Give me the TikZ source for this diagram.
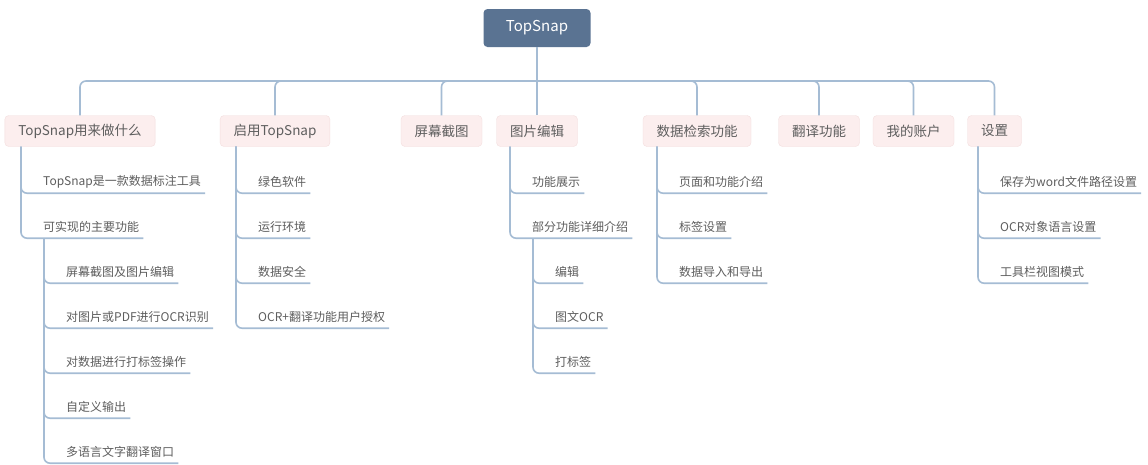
\documentclass[tikz,border=0pt]{standalone}
\usepackage{fontspec}
\setmainfont{Noto Sans CJK SC}
\usetikzlibrary{calc,positioning}

\definecolor{rootblue}{HTML}{5A7392}
\definecolor{topicfill}{HTML}{FCEEEE}
\definecolor{topicline}{HTML}{F4DEDE}
\definecolor{linkblue}{HTML}{A5BCD4}
\definecolor{textgray}{HTML}{5E5E5E}

\tikzset{
  root/.style={fill=rootblue, rounded corners=4pt, text=white,
    minimum width=107, minimum height=38, font=\fontsize{15}{18}\selectfont},
  topic/.style={fill=topicfill, draw=topicline, rounded corners=4pt, text=textgray,
    minimum height=31, inner xsep=13.5, font=\fontsize{13.5}{16}\selectfont},
  sub/.style={text=textgray, inner xsep=4, inner ysep=0, minimum height=22,
    anchor=west, font=\fontsize{12}{14}\selectfont},
  link/.style={linkblue, line width=1.6pt, rounded corners=6pt},
}

\begin{document}
\begin{tikzpicture}[x=1pt,y=-1pt]
\fill[white] (0,0) rectangle (1148,464);
\useasboundingbox (0,0) rectangle (1148,464);

% === Root and main topics ===
\node[root] (root) at (537,28) {TopSnap};
\coordinate (hub) at (537,81);
\draw[link] (root.south) -- (hub);

\foreach \x/\txt/\name in {80/TopSnap用来做什么/t1, 275/启用TopSnap/t2,
    441.5/屏幕截图/t3, 537/图片编辑/t4, 697/数据检索功能/t5,
    819/翻译功能/t6, 913.5/我的账户/t7, 994.5/设置/t8} {
  \node[topic] (\name) at (\x,131) {\txt};
  \draw[link] (hub) -| (\name.north);
}

% vertical x positions of the sub-topic lines
\coordinate (v1) at (21,0);
\coordinate (v1b) at (44,0);
\coordinate (v2) at (236,0);
\coordinate (v4) at (510,0);
\coordinate (v4b) at (533,0);
\coordinate (v5) at (657,0);
\coordinate (v8) at (978,0);

% === TopSnap用来做什么 ===
\foreach \txt [count=\i] in {TopSnap是一款数据标注工具, 可实现的主要功能} {
  \node[sub] (a\i) at (39,{182+45*(\i-1)}) {\txt};
  \draw[link] (t1.south -| v1) |- (a\i.south east);
}
\foreach \txt [count=\i from 3] in {屏幕截图及图片编辑, 对图片或PDF进行OCR识别,
    对数据进行打标签操作, 自定义输出, 多语言文字翻译窗口} {
  \node[sub] (a\i) at (62,{182+45*(\i-1)}) {\txt};
  \draw[link] (a2.south -| v1b) |- (a\i.south east);
}

% === 启用TopSnap ===
\foreach \txt [count=\i] in {绿色软件, 运行环境, 数据安全, OCR+翻译功能用户授权} {
  \node[sub] (b\i) at (254,{182+45*(\i-1)}) {\txt};
  \draw[link] (t2.south -| v2) |- (b\i.south east);
}

% === 图片编辑 ===
\foreach \txt [count=\i] in {功能展示, 部分功能详细介绍} {
  \node[sub] (d\i) at (528,{182+45*(\i-1)}) {\txt};
  \draw[link] (t4.south -| v4) |- (d\i.south east);
}
\foreach \txt [count=\i from 3] in {编辑, 图文OCR, 打标签} {
  \node[sub] (d\i) at (551,{182+45*(\i-1)}) {\txt};
  \draw[link] (d2.south -| v4b) |- (d\i.south east);
}

% === 数据检索功能 ===
\foreach \txt [count=\i] in {页面和功能介绍, 标签设置, 数据导入和导出} {
  \node[sub] (e\i) at (675,{182+45*(\i-1)}) {\txt};
  \draw[link] (t5.south -| v5) |- (e\i.south east);
}

% === 设置 ===
\foreach \txt [count=\i] in {保存为word文件路径设置, OCR对象语言设置, 工具栏视图模式} {
  \node[sub] (h\i) at (996,{182+45*(\i-1)}) {\txt};
  \draw[link] (t8.south -| v8) |- (h\i.south east);
}

\end{tikzpicture}
\end{document}
